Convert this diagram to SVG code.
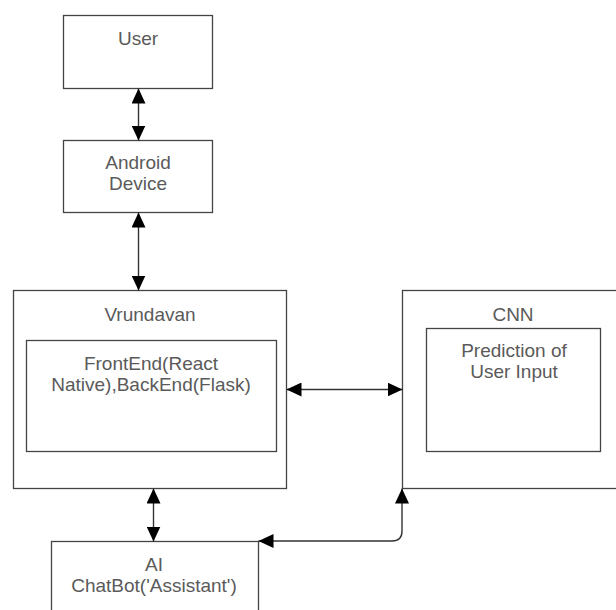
<svg xmlns="http://www.w3.org/2000/svg" width="616" height="610" viewBox="0 0 616 610">
  <defs>
    <marker id="head" viewBox="0 0 15 14" refX="15" refY="7" markerWidth="15" markerHeight="14" markerUnits="userSpaceOnUse" orient="auto-start-reverse">
      <path d="M0,0 L15,7 L0,14 Z" fill="#000"/>
    </marker>
    <style>
      .box { fill: #fff; stroke: #444; stroke-width: 1.3; }
      .label { font-family: "Liberation Sans", Arial, sans-serif; font-size: 19px; fill: #5a5a5a; text-anchor: middle; }
      .link { fill: none; stroke: #333; stroke-width: 1.4; marker-start: url(#head); marker-end: url(#head); }
    </style>
  </defs>
  <rect width="616" height="610" fill="#fff"/>

  <g id="user">
    <rect class="box" x="63.5" y="15.5" width="149" height="73"/>
    <text class="label" x="138" y="45">User</text>
  </g>

  <g id="android-device">
    <rect class="box" x="63.5" y="140.5" width="149" height="72"/>
    <text class="label" x="138" y="169">Android</text>
    <text class="label" x="138" y="190">Device</text>
  </g>

  <g id="vrundavan">
    <rect class="box" x="13.5" y="290.5" width="273" height="198"/>
    <text class="label" x="150" y="321">Vrundavan</text>
    <g id="frontend-backend">
      <rect class="box" x="26.5" y="340.5" width="250" height="111"/>
      <text class="label" x="151" y="370">FrontEnd(React</text>
      <text class="label" x="151" y="391">Native),BackEnd(Flask)</text>
    </g>
  </g>

  <g id="cnn">
    <rect class="box" x="402.5" y="290.5" width="220" height="198"/>
    <text class="label" x="513" y="321">CNN</text>
    <g id="prediction">
      <rect class="box" x="426.5" y="328.5" width="174" height="123"/>
      <text class="label" x="514" y="357">Prediction of</text>
      <text class="label" x="514" y="378">User Input</text>
    </g>
  </g>

  <g id="ai-chatbot">
    <rect class="box" x="51.5" y="541.5" width="207" height="80"/>
    <text class="label" x="154" y="571">AI</text>
    <text class="label" x="154" y="592">ChatBot('Assistant')</text>
  </g>

  <g id="connectors">
    <line class="link" x1="138.5" y1="88.5" x2="138.5" y2="140.5"/>
    <line class="link" x1="138.5" y1="212.5" x2="138.5" y2="290.5"/>
    <line class="link" x1="286.5" y1="389.5" x2="402.5" y2="389.5"/>
    <line class="link" x1="153.5" y1="488.5" x2="153.5" y2="541.5"/>
    <path class="link" d="M402,488.5 L402,531 Q402,541 392,541 L258.5,541"/>
  </g>
</svg>
